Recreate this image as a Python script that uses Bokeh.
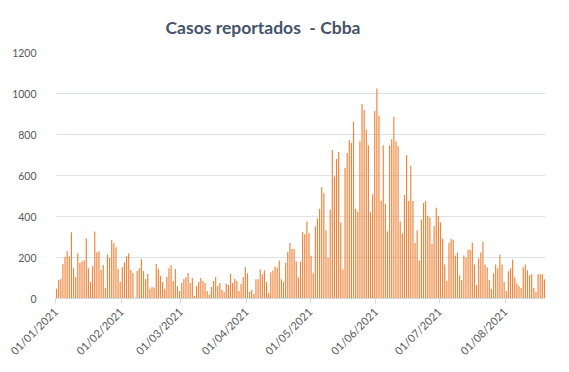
import pandas as pd
from bokeh.plotting import figure
from bokeh.models import Range1d, FixedTicker, Title, ColumnDataSource
from bokeh.embed import file_html
from bokeh.resources import INLINE
from math import pi

jan = [47, 90, 95, 168, 202, 231, 206, 323, 148, 105, 221, 173, 182, 187, 294, 148, 81, 158, 327, 226,
       231, 139, 163, 52, 216, 197, 284, 269, 250, 144, 81]
feb = [153, 177, 206, 221, 139, 124, 3, 134, 148, 192, 134, 95, 119, 47, 56, 52, 168, 144, 110, 81,
       47, 105, 148, 163, 85, 144, 61, 37]
mar = [76, 95, 105, 124, 76, 100, 13, 61, 81, 100, 85, 76, 37, 18, 56, 85, 105, 61, 76, 42,
       32, 71, 66, 119, 76, 95, 85, 37, 71, 105, 153]
apr = [123, 32, 41, 22, 94, 94, 142, 118, 137, 80, 27, 127, 137, 156, 151, 185, 94, 80, 175, 228,
       271, 242, 242, 180, 103, 180, 323, 314, 376, 318]
may = [209, 123, 352, 390, 438, 543, 514, 333, 199, 433, 724, 595, 681, 715, 371, 142, 638, 710, 772, 758,
       863, 438, 423, 767, 949, 920, 825, 748, 419, 509, 915]
jun = [1025, 892, 476, 748, 462, 328, 748, 777, 887, 767, 743, 376, 318, 505, 700, 476, 648, 476, 271, 333,
       185, 385, 466, 476, 404, 395, 266, 352, 443, 404]
jul = [371, 291, 166, 85, 272, 291, 286, 210, 224, 114, 90, 210, 200, 238, 238, 272, 166, 66, 195, 224,
       277, 166, 152, 90, 46, 123, 166, 147, 214, 166, 80]
aug = [37, 133, 147, 190, 104, 75, 61, 51, 152, 166, 138, 114, 118, 51, 32, 118, 118, 118, 94]

cases = jan + feb + mar + apr + may + jun + jul + aug
dates = pd.date_range("2021-01-01", periods=len(cases), freq="D")
tick_labels = ["01/01/2021", "01/02/2021", "01/03/2021", "01/04/2021",
               "01/05/2021", "01/06/2021", "01/07/2021", "01/08/2021"]
month_starts = pd.to_datetime(["2021-01-01", "2021-02-01", "2021-03-01", "2021-04-01",
                               "2021-05-01", "2021-06-01", "2021-07-01", "2021-08-01"])
y_ticks = [0, 200, 400, 600, 800, 1000, 1200]

day_index = [(d - dates[0]).days + 0.5 for d in dates]
tick_pos = [int((m - dates[0]).days) for m in month_starts]

src = ColumnDataSource(dict(x=day_index, y=cases))

p = figure(width=561, height=364, output_backend="svg", toolbar_location=None,
           x_range=Range1d(0, len(cases)), y_range=Range1d(0, 1200),
           min_border_left=55, min_border_right=16, min_border_top=52, min_border_bottom=60)
p.outline_line_color = None
p.background_fill_color = "white"
p.border_fill_color = "white"

p.vbar(x="x", top="y", width=0.55, source=src, fill_color="#F0843A", line_color=None)

t = Title(text="Casos reportados\u00a0\u00a0- Cbba", align="left", offset=110, standoff=29,
          text_font="Lato", text_font_size="17.5px", text_font_style="bold", text_color="#44546A")
p.add_layout(t, "above")

p.xgrid.grid_line_color = None
p.ygrid.grid_line_color = "#DDE2E8"
p.ygrid.grid_line_width = 1

p.yaxis.ticker = FixedTicker(ticks=y_ticks)
p.yaxis.axis_line_color = None
p.yaxis.major_tick_line_color = None
p.yaxis.major_tick_out = 0
p.yaxis.major_tick_in = 0
p.yaxis.minor_tick_line_color = None
p.yaxis.major_label_standoff = 19
p.yaxis.major_label_text_font = "Lato"
p.yaxis.major_label_text_font_size = "10.5px"
p.yaxis.major_label_text_color = "#595959"

p.xaxis.ticker = FixedTicker(ticks=tick_pos)
p.xaxis.major_label_overrides = {tp: lab for tp, lab in zip(tick_pos, tick_labels)}
p.xaxis.major_label_orientation = pi / 4
p.xaxis.axis_line_color = "#D9D9D9"
p.xaxis.major_tick_line_color = "#D9D9D9"
p.xaxis.major_tick_out = 5
p.xaxis.major_tick_in = 0
p.xaxis.minor_tick_line_color = None
p.xaxis.major_label_standoff = 6
p.xaxis.major_label_text_font = "Lato"
p.xaxis.major_label_text_font_size = "11px"
p.xaxis.major_label_text_color = "#595959"

open("out.html", "w").write(file_html(p, INLINE))
